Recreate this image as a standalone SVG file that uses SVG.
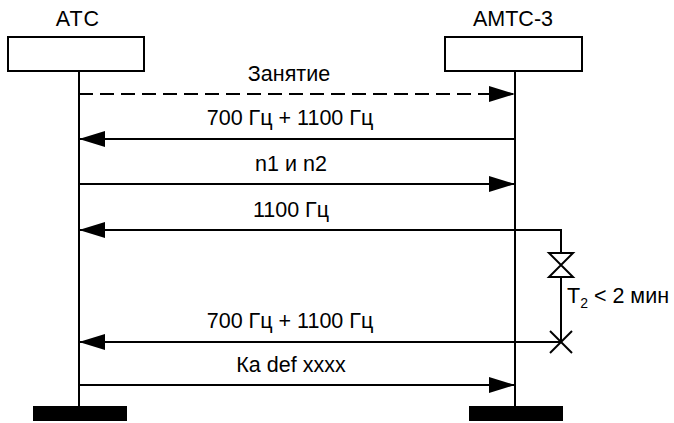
<svg xmlns="http://www.w3.org/2000/svg" width="674" height="423" viewBox="0 0 674 423">
<style>
text{font-family:"Liberation Sans",Arial,sans-serif;font-size:21.5px;fill:#000}
.c{text-anchor:middle}
.box{fill:#fff;stroke:#000;stroke-width:2}
.life{stroke:#000;stroke-width:2}
.msg{stroke:#000;stroke-width:2;fill:none}
.dash{stroke-dasharray:14 7}
.bar{fill:#000}
</style>
<defs>
<marker id="ah" markerUnits="userSpaceOnUse" markerWidth="26" markerHeight="16" refX="26" refY="8" orient="auto">
<path d="M0,0 L26,8 L0,16 z" fill="#000"/>
</marker>
</defs>
<g id="atc">
<text class="c" x="78" y="26" style="letter-spacing:1px">АТС</text>
<rect class="box" x="8" y="37" width="136" height="34"/>
<line class="life" x1="79" y1="71" x2="79" y2="407"/>
<rect class="bar" x="33" y="406" width="94" height="15"/>
</g>
<g id="amts3">
<text class="c" x="513" y="26">АМТС-3</text>
<rect class="box" x="445" y="37" width="137" height="34"/>
<line class="life" x1="515" y1="71" x2="515" y2="407"/>
<rect class="bar" x="469" y="406" width="94" height="15"/>
</g>
<g id="connectors">
<line class="msg dash" x1="79" y1="94" x2="515" y2="94" marker-end="url(#ah)"/>
<text class="c" x="289" y="81">Занятие</text>
<line class="msg" x1="515" y1="139" x2="79" y2="139" marker-end="url(#ah)"/>
<text class="c" x="290" y="125">700 Гц + 1100 Гц</text>
<line class="msg" x1="79" y1="184" x2="515" y2="184" marker-end="url(#ah)"/>
<text class="c" x="291" y="171">n1 и n2</text>
<polyline class="msg" points="561,253 561,230 79,230" marker-end="url(#ah)"/>
<text class="c" x="291" y="217">1100 Гц</text>
<line class="msg" x1="561" y1="277" x2="561" y2="342"/>
<line class="msg" x1="561" y1="342" x2="79" y2="342" marker-end="url(#ah)"/>
<text class="c" x="290" y="328">700 Гц + 1100 Гц</text>
<line class="msg" x1="79" y1="385" x2="515" y2="385" marker-end="url(#ah)"/>
<text class="c" x="291" y="372">Ка def xxxx</text>
</g>
<g id="timer">
<polygon class="msg" points="549,253 573,253 549,277 573,277" style="fill:#fff"/>
<line class="msg" x1="550" y1="331" x2="572" y2="353"/>
<line class="msg" x1="572" y1="331" x2="550" y2="353"/>
<text x="567" y="303">T<tspan font-size="14" dy="5">2</tspan><tspan dy="-5"> &lt; 2 мин</tspan></text>
</g>
</svg>
